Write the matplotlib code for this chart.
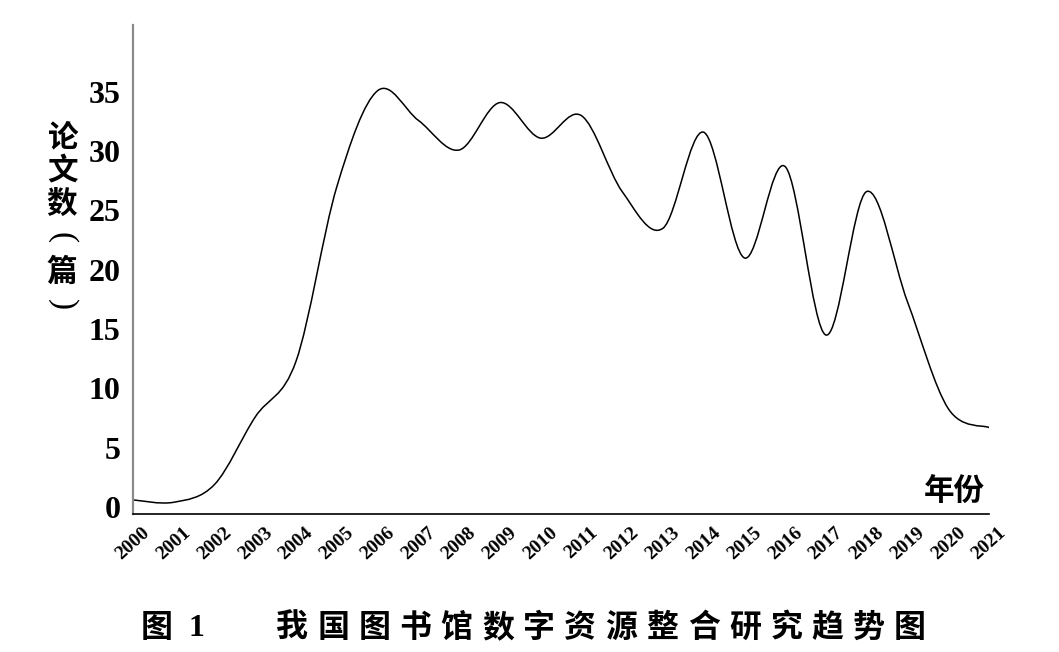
import numpy as np
import matplotlib
matplotlib.use("Agg")
import matplotlib.pyplot as plt
from matplotlib.path import Path
from matplotlib.patches import PathPatch

# ---------- data ----------
years = list(range(2000, 2022))
counts = [0.6, 0.4, 1.9, 7.6, 12.3, 27.0, 35.1, 32.6, 30.1, 34.1, 31.1,
          33.0, 26.6, 23.5, 31.6, 21.0, 28.7, 14.5, 26.6, 17.3, 8.3, 6.7]
y_ticks = [0, 5, 10, 15, 20, 25, 30, 35]
x_labels = [str(y) for y in years]

y_title = ["论", "文", "数", "(", "篇", ")"]
x_title = "年份"
fig_no = "图 1"
caption = "我国图书馆数字资源整合研究趋势图"

W, H = 1059, 652
SERIF = "Liberation Serif"
CJK = ["Noto Sans CJK SC", "DejaVu Sans"]

fig = plt.figure(figsize=(W / 100, H / 100), dpi=100)
ax = fig.add_axes([133 / W, 1 - 514 / H, (989 - 133) / W, (514 - 25) / H])

# ---------- smoothed line (Bezier through the yearly points) ----------
pts = np.column_stack([np.array(years, float), np.array(counts, float)])
n = len(pts)
verts = [pts[0]]
codes = [Path.MOVETO]
for i in range(n - 1):
    p0 = pts[i - 1] if i > 0 else pts[i]
    p1 = pts[i]
    p2 = pts[i + 1]
    p3 = pts[i + 2] if i + 2 < n else pts[i + 1]
    verts += [p1 + (p2 - p0) / 6, p2 - (p3 - p1) / 6, p2]
    codes += [Path.CURVE4] * 3
ax.add_patch(PathPatch(Path(verts, codes), fill=False, edgecolor="black",
                       linewidth=1.1, capstyle="round", joinstyle="round"))

ax.set_xlim(2000, 2021)
ax.set_ylim(-0.59, 40.64)

# ---------- axes style ----------
ax.spines["top"].set_visible(False)
ax.spines["right"].set_visible(False)
ax.spines["left"].set_color("#8a8a8a")
ax.spines["left"].set_linewidth(1.6)
ax.spines["bottom"].set_color("black")
ax.spines["bottom"].set_linewidth(1.2)

ax.set_yticks(y_ticks)
ax.set_yticklabels([str(t) for t in y_ticks], fontfamily=SERIF,
                   fontweight="bold", fontsize=23)
ax.set_xticks(years)
ax.set_xticklabels(x_labels, fontfamily=SERIF, fontweight="bold",
                   fontsize=14, rotation=42, ha="center", va="top")
ax.tick_params(axis="y", length=0, pad=9)
ax.tick_params(axis="x", length=0, pad=7)

# ---------- titles ----------
ax.text(954 / W, 1 - 491 / H, x_title, transform=fig.transFigure,
        family=CJK, fontweight="bold", fontsize=22, ha="center", va="center")

# vertical y title, brackets turned to their vertical form
for i, ch in enumerate(y_title):
    if ch in "()":
        fig.text(62 / W, 1 - (137 + i * 33.6) / H, ch, fontfamily=SERIF,
                 fontsize=24, ha="center", va="center", rotation=-90)
    else:
        fig.text(62 / W, 1 - (137 + i * 33.6) / H, ch, family=CJK,
                 fontweight="bold", fontsize=22, ha="center", va="center")

fig.text(157 / W, 1 - 628 / H, fig_no[0], family=CJK, fontweight="bold",
         fontsize=23, ha="center", va="center")
fig.text(196 / W, 1 - 628 / H, fig_no[-1], fontfamily=SERIF,
         fontweight="bold", fontsize=23, ha="center", va="center")
for i, ch in enumerate(caption):
    fig.text((292 + i * 41.2) / W, 1 - 628 / H, ch, family=CJK,
             fontweight="bold", fontsize=23, ha="center", va="center")

fig.savefig("out.png", dpi=100, facecolor="white")
